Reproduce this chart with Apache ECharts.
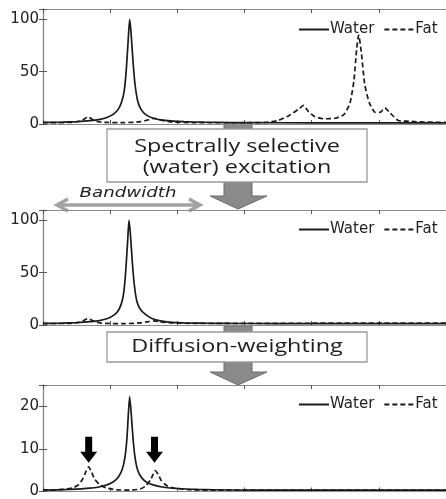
<!DOCTYPE html>
<html>
<head>
<meta charset="utf-8">
<script src="https://cdn.jsdelivr.net/npm/echarts@6/dist/echarts.min.js"></script>
<style>
  html, body { margin: 0; padding: 0; background: #fff; }
  #chart { width: 446px; height: 499px; }
</style>
</head>
<body>
<div id="chart"></div>
<script>
// spectral position (0..6 across the frame) and signal
const waterX1 = [0, 0.3, 0.5, 0.7, 0.85, 0.95, 1.05, 1.12, 1.17, 1.21, 1.24, 1.27, 1.29, 1.31, 1.34, 1.37, 1.41, 1.46, 1.53, 1.63, 1.75, 1.9, 2.1, 2.4, 2.8, 3.5, 4.5, 6];
const waterY1 = [1.5, 1.8, 2.3, 3.2, 4.5, 6.2, 9.5, 14, 21, 32, 52, 82, 100, 88, 60, 38, 22, 14, 9, 5.8, 4, 2.9, 2.2, 1.7, 1.4, 1.2, 1.1, 1.0];
const fatX1 = [0, 0.4, 0.55, 0.62, 0.67, 0.72, 0.8, 0.95, 1.2, 1.45, 1.58, 1.66, 1.74, 1.9, 2.3, 3.0, 3.3, 3.5, 3.66, 3.8, 3.88, 3.95, 4.05, 4.18, 4.35, 4.48, 4.57, 4.63, 4.67, 4.7, 4.74, 4.79, 4.86, 4.95, 5.03, 5.09, 5.16, 5.29, 5.45, 5.6, 6];
const fatY1 = [1.2, 1.5, 2.6, 5, 7, 5, 2.4, 1.5, 1.3, 2.2, 4.2, 5.5, 4, 2, 1.2, 1.2, 1.5, 3.4, 8, 14, 17.8, 12, 7, 5, 5.5, 9, 20, 42, 72, 85, 68, 38, 20, 11, 11.5, 15.5, 11, 3.4, 2.6, 2, 1.5];

const waterX2 = [0, 0.3, 0.5, 0.7, 0.84, 0.95, 1.02, 1.1, 1.16, 1.2, 1.23, 1.26, 1.28, 1.3, 1.33, 1.36, 1.4, 1.46, 1.54, 1.63, 1.75, 1.88, 2.1, 2.4, 2.8, 3.5, 4.5, 6];
const waterY2 = [1.5, 1.8, 2.3, 3.2, 4.2, 6, 8, 12, 19, 30, 50, 80, 100, 88, 60, 38, 22, 14, 9.5, 6, 4, 2.8, 2.1, 1.7, 1.5, 1.4, 1.4, 1.4];
const fatX2 = [0, 0.4, 0.55, 0.62, 0.67, 0.72, 0.8, 0.95, 1.2, 1.45, 1.57, 1.65, 1.73, 1.9, 2.3, 3.0, 4.0, 5.0, 6];
const fatY2 = [1.4, 1.6, 2.6, 4.8, 6.4, 4.8, 2.4, 1.5, 1.3, 2.0, 3.3, 4, 3.2, 2, 1.6, 1.6, 1.7, 1.8, 1.8];

const waterX3 = [0, 0.4, 0.7, 0.9, 1.05, 1.13, 1.18, 1.22, 1.25, 1.27, 1.29, 1.31, 1.34, 1.37, 1.41, 1.47, 1.55, 1.65, 1.8, 2.0, 2.3, 2.8, 3.5, 6];
const waterY3 = [0.3, 0.5, 0.8, 1.3, 2.3, 3.6, 5.2, 8, 12.5, 18, 22.3, 19, 12.5, 8, 5, 3.2, 2.1, 1.5, 1.0, 0.7, 0.5, 0.35, 0.3, 0.3];
const fatX3 = [0, 0.3, 0.45, 0.53, 0.6, 0.64, 0.68, 0.72, 0.77, 0.85, 0.95, 1.1, 1.3, 1.45, 1.53, 1.6, 1.64, 1.67, 1.71, 1.76, 1.84, 1.95, 2.2, 2.6, 3.5, 6];
const fatY3 = [0.3, 0.5, 0.9, 1.6, 3.2, 4.7, 5.8, 4.6, 2.9, 1.5, 0.8, 0.4, 0.3, 0.6, 1.3, 2.7, 4.0, 4.9, 4.1, 2.6, 1.4, 0.8, 0.4, 0.3, 0.3, 0.3];

// y ranges / tick steps of the three panels
const yMax = [110, 110, 25];
const yStep = [50, 50, 10];
// black arrows in the last panel (position, level)
const arrowMarks = [[0.68, 9.8], [1.66, 9.8]];

const zip = (xs, ys) => xs.map((x, i) => [x, ys[i]]);
const panels = [
  { water: zip(waterX1, waterY1), fat: zip(fatX1, fatY1) },
  { water: zip(waterX2, waterY2), fat: zip(fatX2, fatY2) },
  { water: zip(waterX3, waterY3), fat: zip(fatX3, fatY3) }
];

const FONT = 'DejaVu Sans';
const ink = '#1a1a1a';
const frame = '#8c8c8c';

const grids = [
  { left: 43, top: 9, width: 405, height: 115 },
  { left: 43, top: 210, width: 405, height: 115 },
  { left: 43, top: 385, width: 405, height: 113 }
];
const legendTop = [17, 217, 392];

let xAxis = [], yAxis = [], series = [], legend = [];
grids.forEach((g, i) => {
  const tick = { show: true, inside: true, length: 4, lineStyle: { color: '#555' } };
  ['bottom', 'top'].forEach(pos => {
    xAxis.push({
      gridIndex: i, type: 'value', min: 0, max: 6, interval: 1, position: pos,
      axisLine: { show: true, onZero: false, lineStyle: { color: frame, width: 1.2 } },
      axisTick: tick, axisLabel: { show: false }, splitLine: { show: false }
    });
  });
  ['left', 'right'].forEach(pos => {
    yAxis.push({
      gridIndex: i, type: 'value', min: 0, max: yMax[i], interval: yStep[i], position: pos,
      axisLine: { show: true, lineStyle: { color: frame, width: 1.2 } },
      axisTick: tick, splitLine: { show: false },
      axisLabel: pos === 'left' ? {
        show: true, margin: 4, fontSize: 15, fontFamily: FONT, color: '#222',
        formatter: v => (v === yMax[i] ? '' : String(v))
      } : { show: false }
    });
  });
  const base = { type: 'line', xAxisIndex: i * 2, yAxisIndex: i * 2, symbol: 'none', smooth: 0.2, z: 3 };
  series.push(Object.assign({}, base, {
    name: 'Water', data: panels[i].water,
    lineStyle: { color: ink, width: 1.7, type: 'solid' }, itemStyle: { color: ink }
  }));
  const fat = Object.assign({}, base, {
    name: 'Fat', data: panels[i].fat,
    lineStyle: { color: ink, width: 1.7, type: [5, 3] }, itemStyle: { color: ink }
  });
  if (i === 2) {
    fat.markPoint = {
      symbol: 'path://M5 0H12V15H17L8.5 26L0 15H5Z',
      symbolSize: [17, 26],
      itemStyle: { color: '#000' },
      label: { show: false },
      data: arrowMarks.map(c => ({ coord: c }))
    };
  }
  series.push(fat);
  legend.push({
    data: ['Water', 'Fat'], left: 293, top: legendTop[i], orient: 'horizontal', width: 300,
    itemWidth: 30, itemHeight: 12, itemGap: 9, selectedMode: false,
    itemStyle: { opacity: 0 },
    textStyle: { fontSize: 15, fontFamily: FONT, color: '#222', padding: [0, 0, 0, -4] }
  });
});

const arrowGray = { fill: '#8a8a8a', stroke: '#6a6a6a', lineWidth: 1 };
const boxStyle = { fill: '#fff', stroke: '#9a9a9a', lineWidth: 1.3 };
const boxText = (txt, x, y) => ({
  type: 'text', x: x, y: y, scaleX: 1.3,
  style: { text: txt, x: 0, y: 0, align: 'center', verticalAlign: 'middle',
           font: '18px "Open Sans"', fill: '#1e1e1e' }
});
const bwColor = '#a2a2a2';

const graphic = [
  { type: 'polygon', shape: { points: [[224, 124], [252, 124], [252, 196], [267, 196], [238, 209], [210, 196], [224, 196]] }, style: arrowGray },
  { type: 'rect', shape: { x: 107, y: 129, width: 260, height: 53 }, style: boxStyle },
  boxText('Spectrally selective', 237, 147),
  boxText('(water) excitation', 237, 168),
  { type: 'polygon', shape: { points: [[224, 326], [252, 326], [252, 372], [267, 372], [238, 385], [210, 372], [224, 372]] }, style: arrowGray },
  { type: 'rect', shape: { x: 107, y: 332, width: 260, height: 30 }, style: boxStyle },
  boxText('Diffusion-weighting', 237, 347),
  { type: 'polyline', shape: { points: [[57, 205], [200, 205]] }, style: { stroke: bwColor, lineWidth: 3.5 } },
  { type: 'polyline', shape: { points: [[68, 199], [57, 205], [68, 211]] }, style: { stroke: bwColor, lineWidth: 3.5, fill: null } },
  { type: 'polyline', shape: { points: [[189, 199], [200, 205], [189, 211]] }, style: { stroke: bwColor, lineWidth: 3.5, fill: null } },
  {
    type: 'text', x: 128, y: 193, scaleX: 1.3,
    style: { text: 'Bandwidth', x: 0, y: 0, align: 'center', verticalAlign: 'middle',
             font: 'italic 14px "DejaVu Sans"', fill: '#222' }
  }
];

const chart = echarts.init(document.getElementById('chart'));
chart.setOption({
  animation: false,
  backgroundColor: '#fff',
  grid: grids,
  xAxis: xAxis,
  yAxis: yAxis,
  legend: legend,
  series: series,
  graphic: graphic
});
</script>
</body>
</html>
